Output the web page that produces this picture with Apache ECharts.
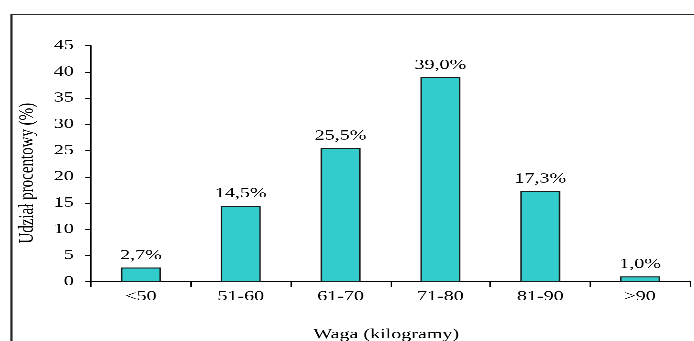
<!DOCTYPE html>
<html>
<head>
<meta charset="utf-8">
<script src="https://cdn.jsdelivr.net/npm/echarts@6/dist/echarts.min.js"></script>
<style>
  html, body { margin: 0; padding: 0; background: #fff; overflow: hidden; }
  /* The chart is laid out narrow and widened horizontally, which gives the wide serif lettering */
  #chart { width: 485px; height: 341px; transform: scaleX(1.43093); transform-origin: 0 0; }
</style>
</head>
<body>
<div id="chart"></div>
<script>
// Weight classes and the share of people in each class (%)
const categories = ['<50', '51-60', '61-70', '71-80', '81-90', '>90'];
const shares = [2.7, 14.5, 25.5, 39.0, 17.3, 1.0];
const yMin = 0;
const yMax = 45;
const yStep = 5;

const serif = 'Liberation Serif';
const ink = '#000';

const chart = echarts.init(document.getElementById('chart'), null, { renderer: 'canvas', devicePixelRatio: 3 });

chart.setOption({
  animation: false,
  backgroundColor: '#fff',
  textStyle: { fontFamily: serif, color: ink },
  graphic: [{
    type: 'rect',
    silent: true,
    shape: { x: 8, y: 14.5, width: 700, height: 500 },
    style: { fill: 'none', stroke: '#2a2a2a', lineWidth: 1.6 }
  }],
  grid: {
    left: 63.6, right: 2.8, top: 45.7, bottom: 59.3,
    containLabel: false,
    outerBoundsMode: 'none'
  },
  xAxis: {
    type: 'category',
    data: categories,
    boundaryGap: true,
    name: 'Waga (kilogramy)',
    nameLocation: 'middle',
    nameGap: 46,
    nameTextStyle: { fontFamily: serif, fontSize: 14, color: ink, padding: [0, 6, 0, 0] },
    axisLine: { show: true, lineStyle: { color: '#000', width: 1 } },
    axisTick: { show: true, alignWithLabel: false, length: 5, lineStyle: { color: '#000' } },
    axisLabel: { fontFamily: serif, fontSize: 14, color: ink, margin: 8 },
    splitLine: { show: false }
  },
  yAxis: {
    type: 'value',
    min: yMin,
    max: yMax,
    interval: yStep,
    name: 'Udział procentowy (%)',
    nameLocation: 'middle',
    nameGap: 36,
    nameRotate: 90,
    nameTextStyle: { fontFamily: serif, fontSize: 15, color: ink, padding: [0, 19, 0, 0] },
    axisLine: { show: true, lineStyle: { color: '#000', width: 1 } },
    axisTick: { show: true, length: 4.2, lineStyle: { color: '#000' } },
    axisLabel: { fontFamily: serif, fontSize: 14, color: ink, margin: 12 },
    splitLine: { show: false }
  },
  series: [{
    type: 'bar',
    data: shares,
    barWidth: '40%',
    itemStyle: { color: '#33cccc', borderColor: '#1a1a1a', borderWidth: 1 },
    label: {
      show: true,
      position: 'top',
      distance: 5,
      fontFamily: serif,
      fontSize: 14,
      color: ink,
      formatter: p => p.value.toFixed(1).replace('.', ',') + '%'
    }
  }]
});
</script>
</body>
</html>
